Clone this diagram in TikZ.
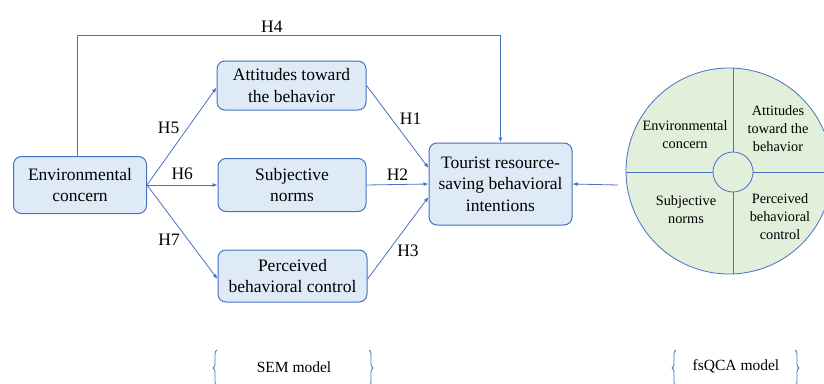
\documentclass[tikz,border=0pt]{standalone}
\usepackage{fontspec}
\setmainfont{Liberation Serif}
\usetikzlibrary{arrows.meta,positioning,calc,decorations.pathreplacing}

\definecolor{lineblue}{HTML}{4472C4}
\definecolor{boxblue}{HTML}{DEEBF7}
\definecolor{qcagreen}{HTML}{E2EFDA}

\begin{document}
\begin{tikzpicture}[
    x=1pt, y=-1pt,
    font=\fontsize{17.5}{21.5}\selectfont,
    var/.style={draw=lineblue, fill=boxblue, line width=1pt, rounded corners=8pt, align=center, inner sep=2pt},
    ar/.style={-{Latex[length=5pt,width=4pt]}, draw=lineblue, line width=0.8pt},
    lbl/.style={inner sep=2pt},
    part/.style={align=center, font=\fontsize{14.3}{18}\selectfont},
    brc/.style={draw=lineblue, line width=0.8pt, decorate, decoration={brace, amplitude=4pt}},
  ]
    \useasboundingbox (0,0) rectangle (824,383);

    \node[var, minimum width=133pt, minimum height=57pt] (env) at (80,185) {Environmental\\concern};
    \node[var, minimum width=149pt, minimum height=49pt] (att) at (291.5,85.5) {Attitudes toward\\the behavior};
    \node[var, minimum width=148pt, minimum height=53pt] (sub) at (292,185) {Subjective\\norms};
    \node[var, minimum width=149pt, minimum height=52pt] (pbc) at (292.5,276) {Perceived\\behavioral control};
    \node[var, minimum width=143pt, minimum height=82pt] (tour) at (500.5,184) {Tourist resource-\\saving behavioral\\intentions};

    \coordinate (top) at (0,35);
    \draw[ar] ([xshift=-3pt]env.north) |- node[lbl, above, pos=0.73]{H4} (top -| tour.north) -- (tour.north);

    \draw[ar] (env.east) -- node[lbl, above left, pos=0.5]{H5} ([yshift=-2pt]att.west);
    \draw[ar] (env.east) -- node[lbl, above, yshift=3pt]{H6} (sub.west);
    \draw[ar] (env.east) -- node[lbl, below left, pos=0.5]{H7} ([yshift=-3pt]pbc.west);

    \draw[ar] (att.east) -- node[lbl, above right, pos=0.5]{H1} ([yshift=16pt]tour.west);
    \draw[ar] (sub.east) -- node[lbl, above, yshift=2pt]{H2} (tour.west);
    \draw[ar] ([yshift=-3pt]pbc.east) -- node[lbl, below right, pos=0.45]{H3} ([yshift=-13pt]tour.west);

    % fsQCA configuration
    \node[circle, draw=lineblue, fill=qcagreen, line width=0.8pt, minimum size=206pt, inner sep=0pt] (qca) at (729,171) {};
    \node[circle, draw=lineblue, line width=0.8pt, minimum size=40pt, inner sep=0pt] (core) at (733,172) {};
    \draw[lineblue, line width=0.8pt] (core.north) -- (core.north |- qca.north)
      (core.south) -- ([xshift=4pt]qca.south)
      (core.west) -- (core.west -| qca.west)
      (core.east) -- (core.east -| qca.east);
    \node[part] (qenv) at (685,135) {Environmental\\concern};
    \node[part] (qatt) at (778,129) {Attitudes\\toward the\\behavior};
    \node[part] (qsub) at (686,210) {Subjective\\norms};
    \node[part] (qpbc) at (780,217) {Perceived\\behavioral\\control};

    \coordinate (qin) at (618,185);
    \draw[ar] (qin) -- (tour.east);

    % model braces
    \node[font=\fontsize{15.5}{17}\selectfont] (sem) at (294,367) {SEM model};
    \node[font=\fontsize{15.5}{17}\selectfont] (fsq) at (736,366) {fsQCA model};
    \draw[brc] (217,386) -- (217,350);
    \draw[brc] (369,350) -- (369,386);
    \draw[brc] (676,386) -- (676,350);
    \draw[brc] (795,350) -- (795,386);
  \end{tikzpicture}
\end{document}
